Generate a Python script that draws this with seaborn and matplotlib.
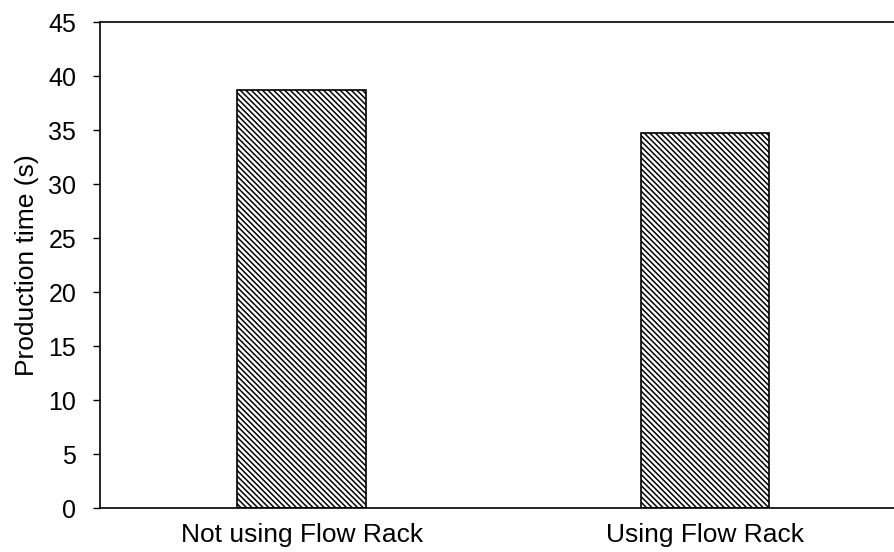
import matplotlib
matplotlib.use("Agg")
import matplotlib.pyplot as plt
import seaborn as sns
import pandas as pd

categories = ["Not using Flow Rack", "Using Flow Rack"]
production_time = [38.7, 34.7]
y_ticks = [0, 5, 10, 15, 20, 25, 30, 35, 40, 45]

sns.set_style("white")
plt.rcParams['font.family'] = ['Liberation Sans', 'DejaVu Sans']
plt.rcParams['hatch.linewidth'] = 1.1
plt.rcParams['text.color'] = 'black'
plt.rcParams['axes.labelcolor'] = 'black'
plt.rcParams['xtick.color'] = 'black'
plt.rcParams['ytick.color'] = 'black'

df = pd.DataFrame({"Condition": categories, "Production time (s)": production_time})

fig = plt.figure(figsize=(8.95, 5.52), dpi=100)
ax = fig.add_axes([0.1117, 0.0797, 0.901, 0.880])

# dense diagonal hatch like the original
sns.barplot(data=df, x="Condition", y="Production time (s)", color="white",
            edgecolor="black", linewidth=1.2, width=0.318, saturation=1,
            hatch="\\" * 6, ax=ax)

ax.set_xlim(-0.5, 1.5)
ax.set_ylim(0, 45)
ax.set_yticks(y_ticks)
ax.set_xlabel("")
ax.set_ylabel("Production time (s)", fontsize=19, labelpad=7)
ax.tick_params(axis="y", direction="out", length=5, width=1, labelsize=18, left=True, pad=12)
ax.tick_params(axis="x", length=0, labelsize=19, pad=11)

for side in ["left", "bottom", "top"]:
    ax.spines[side].set_color("black")
    ax.spines[side].set_linewidth(1.2)
ax.spines["right"].set_visible(False)

fig.savefig("out.png", dpi=100)
